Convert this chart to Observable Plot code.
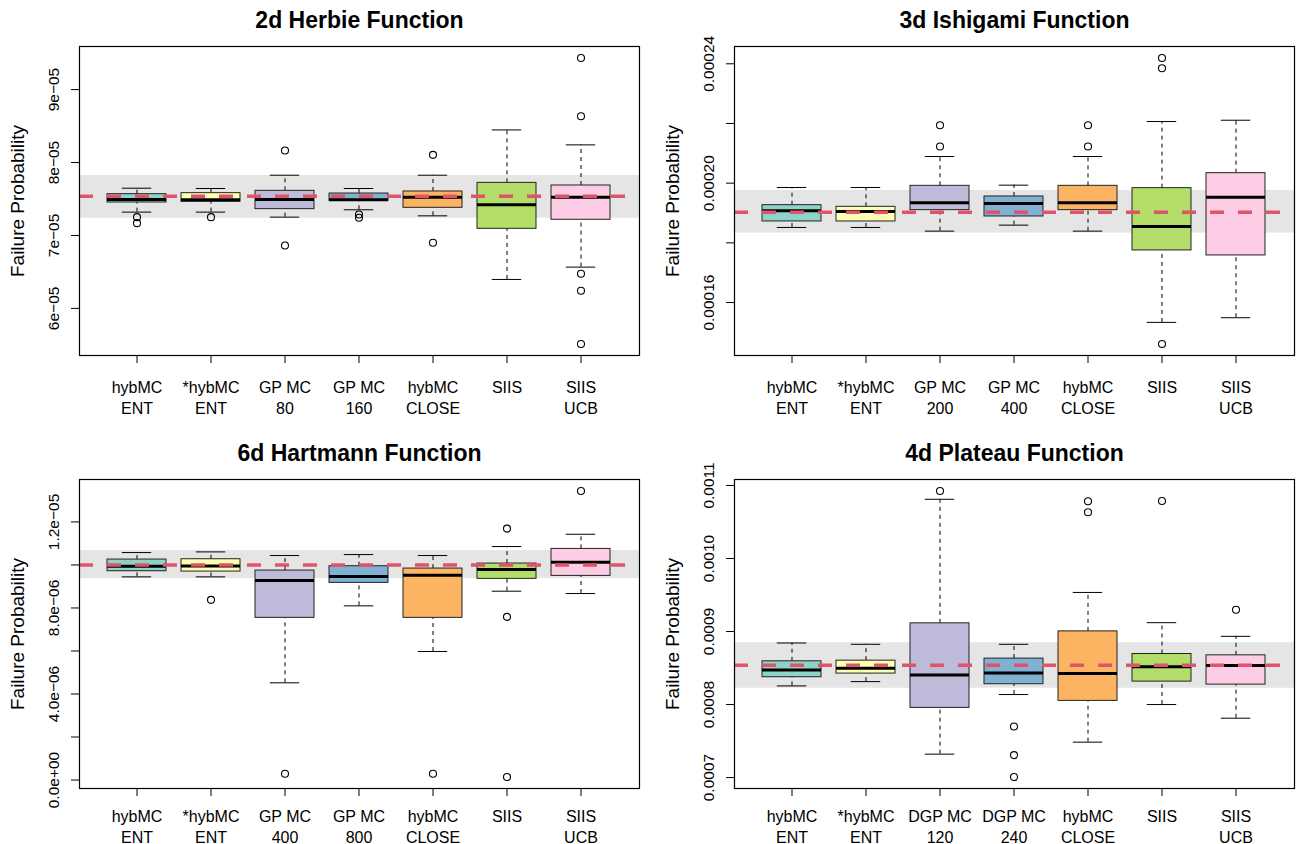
<!DOCTYPE html>
<html><head><meta charset="utf-8">
<script src="https://cdn.jsdelivr.net/npm/d3@7"></script>
<script src="https://cdn.jsdelivr.net/npm/@observablehq/plot@0.6"></script>
<style>
body{margin:0;background:#fff;}
#root{position:relative;width:1296px;height:844px;background:#fff;}
.panel{position:absolute;width:648px;height:422px;}
</style></head><body><div id="root"></div>
<script>
// ---------- shared ----------
const boxFills = ["#8DD3C7","#FFFFB3","#BEBADA","#80B1D3","#FDB462","#B3DE69","#FCCDE5"];
const yTitle = "Failure Probability";

// ---------- 2d Herbie ----------
const herbieTitle = "2d Herbie Function";
const herbieLabels = ["hybMC\nENT","*hybMC\nENT","GP MC\n80","GP MC\n160","hybMC\nCLOSE","SIIS","SIIS\nUCB"];
const herbieLow  = [7.320e-5,7.320e-5,7.251e-5,7.352e-5,7.269e-5,6.397e-5,6.566e-5];
const herbieQ1   = [7.452e-5,7.461e-5,7.361e-5,7.475e-5,7.379e-5,7.091e-5,7.215e-5];
const herbieMed  = [7.493e-5,7.489e-5,7.493e-5,7.489e-5,7.525e-5,7.420e-5,7.525e-5];
const herbieQ3   = [7.566e-5,7.580e-5,7.612e-5,7.575e-5,7.603e-5,7.721e-5,7.685e-5];
const herbieHigh = [7.648e-5,7.644e-5,7.826e-5,7.644e-5,7.826e-5,8.447e-5,8.242e-5];
const herbieOutliers = [[7.251e-5,7.169e-5],[7.251e-5],[8.164e-5,6.863e-5],[7.288e-5,7.242e-5],[8.105e-5,6.900e-5],[],[9.434e-5,8.635e-5,6.475e-5,6.242e-5,5.511e-5]];
const herbieTruth = 7.538e-5;
const herbieBand = [7.237e-5, 7.822e-5];
const herbieTicks = [6e-5,7e-5,8e-5,9e-5];
const herbieTickLabels = ["6e\u221205","7e\u221205","8e\u221205","9e\u221205"];

// ---------- 3d Ishigami ----------
const ishigamiTitle = "3d Ishigami Function";
const ishigamiLabels = ["hybMC\nENT","*hybMC\nENT","GP MC\n200","GP MC\n400","hybMC\nCLOSE","SIIS","SIIS\nUCB"];
const ishigamiLow  = [1.8516e-4,1.8516e-4,1.8393e-4,1.8594e-4,1.8393e-4,1.5335e-4,1.5491e-4];
const ishigamiQ1   = [1.8717e-4,1.8717e-4,1.9096e-4,1.8884e-4,1.9096e-4,1.7746e-4,1.7578e-4];
const ishigamiMed  = [1.9074e-4,1.9051e-4,1.9342e-4,1.9319e-4,1.9342e-4,1.8549e-4,1.9531e-4];
const ishigamiQ3   = [1.9263e-4,1.9208e-4,1.9911e-4,1.9554e-4,1.9911e-4,1.9833e-4,2.0335e-4];
const ishigamiHigh = [1.9855e-4,1.9855e-4,2.0893e-4,1.9933e-4,2.0893e-4,2.2065e-4,2.2109e-4];
const ishigamiOutliers = [[],[],[2.1942e-4,2.1228e-4],[],[2.1942e-4,2.1228e-4],[2.4196e-4,2.3850e-4,1.4609e-4],[]];
const ishigamiTruth = 1.9029e-4;
const ishigamiBand = [1.8326e-4, 1.9754e-4];
const ishigamiTicks = [1.6e-4,1.8e-4,2.0e-4,2.2e-4,2.4e-4];
const ishigamiTickLabels = ["0.00016","","0.00020","","0.00024"];

// ---------- 6d Hartmann ----------
const hartmannTitle = "6d Hartmann Function";
const hartmannLabels = ["hybMC\nENT","*hybMC\nENT","GP MC\n400","GP MC\n800","hybMC\nCLOSE","SIIS","SIIS\nUCB"];
const hartmannLow  = [9.446e-6,9.446e-6,4.521e-6,8.098e-6,5.977e-6,8.780e-6,8.671e-6];
const hartmannQ1   = [9.709e-6,9.693e-6,7.541e-6,9.167e-6,7.541e-6,9.353e-6,9.492e-6];
const hartmannMed  = [9.941e-6,9.957e-6,9.275e-6,9.461e-6,9.523e-6,9.786e-6,10.127e-6];
const hartmannQ3   = [10.251e-6,10.266e-6,9.740e-6,9.941e-6,9.833e-6,10.065e-6,10.746e-6];
const hartmannHigh = [10.576e-6,10.607e-6,10.437e-6,10.483e-6,10.437e-6,10.855e-6,11.427e-6];
const hartmannOutliers = [[],[8.377e-6],[0.294e-6],[],[0.294e-6],[11.691e-6,7.587e-6,0.139e-6],[13.441e-6]];
const hartmannTruth = 1.0e-5;
const hartmannBand = [9.368e-6, 10.669e-6];
const hartmannTicks = [0,2e-6,4e-6,6e-6,8e-6,1e-5,1.2e-5];
const hartmannTickLabels = ["0.0e+00","","4.0e\u221206","","8.0e\u221206","","1.2e\u221205"];

// ---------- 4d Plateau ----------
const plateauTitle = "4d Plateau Function";
const plateauLabels = ["hybMC\nENT","*hybMC\nENT","DGP MC\n120","DGP MC\n240","hybMC\nCLOSE","SIIS","SIIS\nUCB"];
const plateauLow  = [8.255e-4,8.314e-4,7.321e-4,8.137e-4,7.485e-4,8.000e-4,7.813e-4];
const plateauQ1   = [8.374e-4,8.424e-4,7.954e-4,8.278e-4,8.050e-4,8.314e-4,8.273e-4];
const plateauMed  = [8.474e-4,8.497e-4,8.405e-4,8.433e-4,8.424e-4,8.519e-4,8.533e-4];
const plateauQ3   = [8.592e-4,8.601e-4,9.112e-4,8.629e-4,9.002e-4,8.692e-4,8.674e-4];
const plateauHigh = [8.843e-4,8.825e-4,10.811e-4,8.825e-4,9.535e-4,9.121e-4,8.934e-4];
const plateauOutliers = [[],[],[10.925e-4],[7.699e-4,7.308e-4,7.007e-4],[10.784e-4,10.633e-4],[10.788e-4],[9.298e-4]];
const plateauTruth = 8.538e-4;
const plateauBand = [8.223e-4, 8.847e-4];
const plateauTicks = [7e-4,8e-4,9e-4,10e-4,11e-4];
const plateauTickLabels = ["0.0007","0.0008","0.0009","0.0010","0.0011"];

const FONT = "'Liberation Sans', Arial, Helvetica, sans-serif";

function panel(cfg) {
  const rows = cfg.labels.map((label, i) => ({
    label, low: cfg.low[i], q1: cfg.q1[i], med: cfg.med[i], q3: cfg.q3[i], high: cfg.high[i], fill: boxFills[i]
  }));
  const outs = cfg.labels.flatMap((label, i) => cfg.outliers[i].map(v => ({label, v})));
  const all = [...cfg.low, ...cfg.high, ...cfg.outliers.flat()];
  const [lo, hi] = d3.extent(all);
  const pad = (hi - lo) * 0.04;
  const tickText = cfg.ticks.map((t, i) => ({t, s: cfg.tickLabels[i]})).filter(d => d.s);
  const capInset = 14.8;
  return Plot.plot({
    width: 648, height: 422,
    marginLeft: cfg.ml, marginRight: cfg.mr, marginTop: cfg.mt, marginBottom: cfg.mb,
    style: {fontFamily: FONT, background: "white", color: "black", overflow: "visible"},
    x: {type: "band", domain: cfg.labels, paddingInner: 0.2, paddingOuter: 0.38, label: null, axis: null},
    y: {domain: [lo - pad, hi + pad], label: null, axis: null},
    color: {type: "identity"},
    marks: [
      Plot.rect([cfg.band], {y1: d => d[0], y2: d => d[1], fill: "#E5E5E5"}),
      Plot.ruleX(rows, {x: "label", y1: "q3", y2: "high", stroke: "black", strokeWidth: 1, strokeDasharray: "4,4"}),
      Plot.ruleX(rows, {x: "label", y1: "low", y2: "q1", stroke: "black", strokeWidth: 1, strokeDasharray: "4,4"}),
      Plot.tickY(rows, {x: "label", y: "high", stroke: "black", strokeWidth: 1, insetLeft: capInset, insetRight: capInset}),
      Plot.tickY(rows, {x: "label", y: "low", stroke: "black", strokeWidth: 1, insetLeft: capInset, insetRight: capInset}),
      Plot.barY(rows, {x: "label", y1: "q1", y2: "q3", fill: "fill", stroke: "#222", strokeWidth: 1}),
      Plot.tickY(rows, {x: "label", y: "med", stroke: "black", strokeWidth: 3}),
      Plot.dot(outs, {x: "label", y: "v", r: 3.5, stroke: "black", strokeWidth: 1.1, fill: "none"}),
      Plot.ruleY([cfg.truth], {stroke: "#DF536B", strokeWidth: 3.5, strokeDasharray: "14,14"}),
      Plot.frame({stroke: "black", strokeWidth: 1.2}),
      Plot.axisX({tickSize: 8, tickPadding: cfg.xpad, fontSize: 16, lineHeight: 1.33, label: null, tickFormat: d => d}),
      Plot.axisY(cfg.ticks, {tickSize: 8, label: null, tickFormat: () => ""}),
      Plot.text(tickText, {y: "t", text: "s", frameAnchor: "left", dx: -25, rotate: -90, fontSize: 15.5, textAnchor: "middle", lineAnchor: "middle", fill: "black"}),
      Plot.text([yTitle], {frameAnchor: "left", dx: -62, rotate: -90, fontSize: 19, textAnchor: "middle", lineAnchor: "middle", fill: "black"}),
      Plot.text([cfg.title], {frameAnchor: "top", dy: -25.4, fontSize: 23, fontWeight: "bold", textAnchor: "middle", lineAnchor: "middle", fill: "black"})
    ]
  });
}

const configs = [
  {left: 0, top: 0, ml: 79, mr: 9, mt: 46, mb: 67, xpad: 14, title: herbieTitle, labels: herbieLabels, low: herbieLow, q1: herbieQ1, med: herbieMed, q3: herbieQ3, high: herbieHigh, outliers: herbieOutliers, truth: herbieTruth, band: herbieBand, ticks: herbieTicks, tickLabels: herbieTickLabels},
  {left: 648, top: 0, ml: 86, mr: 2, mt: 46, mb: 67, xpad: 14, title: ishigamiTitle, labels: ishigamiLabels, low: ishigamiLow, q1: ishigamiQ1, med: ishigamiMed, q3: ishigamiQ3, high: ishigamiHigh, outliers: ishigamiOutliers, truth: ishigamiTruth, band: ishigamiBand, ticks: ishigamiTicks, tickLabels: ishigamiTickLabels},
  {left: 0, top: 422, ml: 79, mr: 9, mt: 57, mb: 56, xpad: 10, title: hartmannTitle, labels: hartmannLabels, low: hartmannLow, q1: hartmannQ1, med: hartmannMed, q3: hartmannQ3, high: hartmannHigh, outliers: hartmannOutliers, truth: hartmannTruth, band: hartmannBand, ticks: hartmannTicks, tickLabels: hartmannTickLabels},
  {left: 648, top: 422, ml: 86, mr: 2, mt: 57, mb: 56, xpad: 10, title: plateauTitle, labels: plateauLabels, low: plateauLow, q1: plateauQ1, med: plateauMed, q3: plateauQ3, high: plateauHigh, outliers: plateauOutliers, truth: plateauTruth, band: plateauBand, ticks: plateauTicks, tickLabels: plateauTickLabels}
];

const root = document.getElementById("root");
for (const cfg of configs) {
  const div = document.createElement("div");
  div.className = "panel";
  div.style.left = cfg.left + "px";
  div.style.top = cfg.top + "px";
  div.appendChild(panel(cfg));
  root.appendChild(div);
}
</script>
</body></html>
